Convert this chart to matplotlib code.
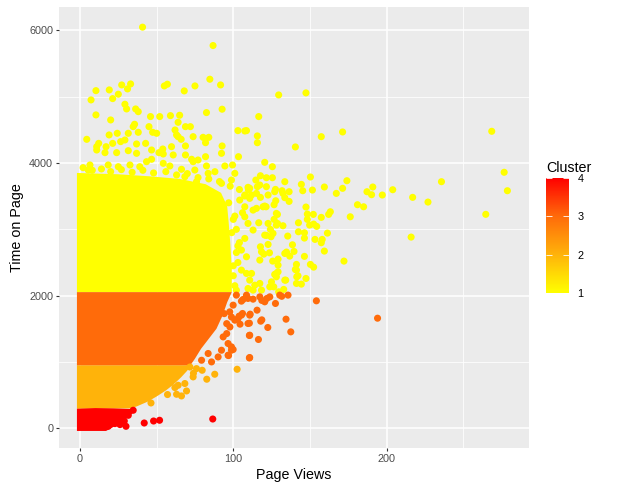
import numpy as np
import matplotlib
matplotlib.use('Agg')
import matplotlib.pyplot as plt
from matplotlib.colors import LinearSegmentedColormap, Normalize
from matplotlib.cm import ScalarMappable

plt.rcParams['font.family'] = ['Liberation Sans', 'DejaVu Sans']

# ── DATA ────────────────────────────────────────────────────────────────────────
clusters = [1, 2, 3, 4]

# solid (over-plotted) cores of each cluster, outline in data units
core1_views = [-2, 99, 99, 98, 97, 96, 92, 82, 65, 45, 25, -2]
core1_time  = [2053, 2053, 2400, 2800, 3100, 3350, 3550, 3680, 3760, 3800, 3830, 3850]
core2_views = [-2, 33, 37, 44, 50, 56, 61, 66, 70, 72, -2]
core2_time  = [295, 300, 330, 400, 480, 570, 660, 770, 870, 951, 951]
core3_views = [-2, 72, 75, 79, 84, 89, 93, 96, 99, -2]
core3_time  = [951, 951, 1050, 1200, 1350, 1500, 1700, 1900, 2053, 2053]
core4_views = [-2, 17, 21, 26, 31, 35, 34, 22, 10, -2]
core4_time  = [-40, -40, 10, 80, 160, 240, 290, 300, 305, 295]

# points standing out of the cores
views_1 = [40.8, 86.8, 84.7, 91.7, 27.2, 33, 10.4, 19.1, 31, 55, 57, 68, 75, 7.2, 21.3, 25,
           29.3, 30.4, 36.3, 38, 10.4, 20, 82.5, 92.7, 46, 52, 59, 65, 64, 35.6, 34.7, 45,
           68.8, 72, 62, 4.4, 19, 24.3, 31.5, 38, 47.4, 50, 63, 66, 73.8, 80.3, 81.9, 84,
           103, 108.6, 68.8, 92.7, 103.4, 92.3, 81.9, 10.9, 12.2, 17, 21.3, 26.5, 36.9, 42.8,
           51.5, 54, 59.7, 68.8, 77, 99.5,
           64, 29.3, 10.9, 16.3, 23.9, 31.5, 36.9, 46.7, 54.3, 60.8, 72.8, 6.5, 5.4,
           18.4, 25, 32.6, 39, 43.4, 46.7, 54.3, 58.6, 66.2, 73.8, 74.9, 82.5, 88, 94.5,
           109.6, 107.5, 110.7, 101, 98.8, 92.3, 104.2, 107.5, 111.9, 83.6, 76, 68.4,
           116.6, 115.7, 115.7, 120.5, 125.5,
           129.6, 147.4, 107.5, 157.4, 171.3, 140.5, 268.6, 150.3, 276.7, 278.8, 235.8, 174.1,
           144.4, 159.4, 151.6, 145.3, 171.3, 167.2, 187.2, 191, 190.2, 197.2, 204, 217, 227,
           264.7, 216, 181, 185, 176.3, 163.3, 162.2, 157.4, 172.2, 159.4, 161.4, 157.4, 158,
           153.3, 147.4, 148.3, 148.3, 152.2, 149.8, 152.4, 154.4, 142.5, 142.5, 146.4, 146.4,
           135.5, 138.6, 139.6, 146.4, 150.3, 152.4, 141.2, 140.5, 136.4, 136.4, 131.8, 127.5,
           133.6, 132.4, 128.8, 126.6, 127.7, 126.6, 122.7, 121.6, 125.5, 121.6, 117.7, 114.7,
           128.8, 122.7, 116.6, 121.4, 119.4, 117.7, 124.2, 121.6, 124.6, 122.7, 117.7, 123.6,
           119.9, 125.7, 129.2, 134.7, 136.8, 129.2, 129.2, 127, 141.4, 142.2, 147.4, 109.9,
           115.7, 107.5,
           141.2, 144.4, 141.2, 134.2, 132.9, 129.6, 126.4, 124.9, 128.1, 117.3, 114, 109.6, 111.9,
           117.3, 127, 132.4, 115.1, 110.7, 133.6, 115.1, 120.5, 128.1, 112.9, 109.6, 107.5,
           112.9, 120.5, 125.9, 128.1, 118.4, 117.3, 108.6, 105.3, 107.5, 133.6, 128.1, 123.8,
           133.6, 118.4, 110.7, 108.6, 105.3, 102, 112.9,
           103, 104, 102, 101, 100,
           2, 8, 14, 20, 27, 34, 41, 48, 56, 63, 70, 77, 84, 91,
           101, 100, 102, 99, 100, 97, 104, 106, 103, 98]
time_1  = [6048, 5771, 5263, 5177, 5177, 5192, 5091, 5102, 5117, 5162, 5188, 5087, 5162, 4951, 4971, 5037,
           4886, 4815, 4815, 4774, 4725, 4649, 4760, 4811, 4700, 4700, 4714, 4720, 4614, 4584, 4548, 4548,
           4548, 4548, 4498, 4357, 4423, 4448, 4448, 4463, 4463, 4448, 4423, 4357, 4397, 4387, 4306, 4387,
           4488, 4488, 4257, 4257, 4095, 4146, 4095, 4246, 4296, 4246, 4296, 4322, 4287, 4296,
           4156, 4211, 4246, 4121, 4045, 3970,
           4397, 4347, 4196, 4156, 4156, 4186, 4146, 4196, 4136, 4121, 4056, 3970, 3894,
           3970, 3944, 3970, 3944, 4020, 4056, 3995, 3955, 3905, 4020, 3894, 3955, 3869, 3955,
           3633, 3517, 3618, 3844, 3743, 3693, 3441, 3340, 3517, 3844, 3718, 3793,
           4700, 4408, 4306, 4010, 3944,
           5026, 5057, 4483, 4397, 4468, 4242, 4478, 3789, 3860, 3582, 3718, 3733,
           3678, 3638, 3592, 3582, 3618, 3542, 3567, 3638, 3522, 3517, 3597, 3482, 3411,
           3226, 2883, 3371, 3340, 3189, 3265, 3225, 3180, 2521, 2672, 2943, 2798, 2848,
           2848, 3336, 3230, 3150, 3225, 3064, 3079, 3044, 3099, 2963, 2948, 2868,
           2898, 2767, 2667, 2592, 2471, 2430, 2471, 2395, 3567, 3421, 3582, 3602,
           3477, 3054, 3225, 3150, 3431, 3371, 3517, 3643, 3778, 3778, 3808, 3743,
           3089, 3089, 3099, 3340, 3340, 3482, 2999, 2908, 2888, 2772, 2737, 2646,
           2626, 2521, 2551, 2657, 2596, 2460, 2360, 2320, 2284, 2299, 2259, 3592,
           3643, 3502,
           2385, 2174, 2184, 2234, 2094, 2058, 2133, 2208, 2335, 2184, 2158, 2108, 2335,
           3668, 3567, 3542, 3542, 3467, 3718, 3316, 3351, 3240, 3290, 3089, 3189,
           2989, 2913, 2938, 3064, 2661, 2536, 2586, 2687, 2863, 2636, 2284, 2133,
           2234, 2083, 2234, 2335, 2385, 2083, 2083,
           2500, 2800, 3000, 3200, 2300,
           3930, 3890, 3910, 3870, 3900, 3860, 3890, 3850, 3870, 3820, 3840, 3780, 3760, 3720,
           2150, 2450, 2650, 2950, 3150, 3400, 3600, 3250, 2750, 3650]

views_2 = [73.8, 79.7, 82.7, 87.9, 102.5, 69.5, 66.2, 63, 57.1, 61.9, 64, 68.4, 46.3, 71.7, 76, 74]
time_2  = [775, 875, 740, 815, 890, 563, 488, 513, 509, 614, 649, 675, 382, 924, 900, 830]

views_3 = [154.2, 194.1, 134.4, 137.5, 122.5, 117.9, 118.6, 115.5, 127.5, 131.6, 120.5, 121.9,
           116.4, 110.5, 110.5, 110.5, 111, 104.4, 106, 103.8, 118.6, 112.9, 109.6, 106.4,
           96.9, 99.9, 98.8, 102, 108.6, 117.3, 123.8, 130.3, 135.7, 97.7, 101, 105.3, 110.7,
           109.6, 110.7, 110.7, 103.1, 99.9, 105.3, 93.4, 96.6, 98.8, 92.3, 90.1, 85.8, 83.6,
           79.3, 96.6, 95.7, 97.8, 95.7, 94.1, 98.8]
time_3  = [1922, 1660, 1645, 1454, 1520, 1615, 1635, 1781, 1882, 1990, 1907, 1958,
           1339, 1399, 1061, 1585, 1721, 1570, 1731, 1691, 1928, 1947, 1958, 1943,
           1097, 1188, 1228, 2008, 2008, 1982, 1982, 2008, 2008, 1756, 1630, 1706, 1706,
           1580, 1404, 1067, 1655, 1857, 1917, 1378, 1278, 1177, 1177, 1076, 1001, 1128,
           1026, 1102, 1428, 1528, 1578, 1729, 1678]

views_4 = [26.1, 30, 28.9, 41.9, 48, 51.9, 86.6, 34.7, 31.5, 22.8, 18.4]
time_4  = [56, 30, 110, 80, 110, 121, 140, 272, 196, 71, 30]

# ── COLOURS ─────────────────────────────────────────────────────────────────────
cmap = LinearSegmentedColormap.from_list('cluster', ['#FFFF00', '#FFB30A', '#FF6B0A', '#FF0000'])
norm = Normalize(vmin=1, vmax=4)

# ── PLOT ────────────────────────────────────────────────────────────────────────
fig = plt.figure(figsize=(6.17, 4.90), dpi=100)
ax = fig.add_axes([59 / 617, 42 / 490, 470 / 617, 441 / 490])
ax.set_facecolor('#EBEBEB')

cores = [(core1_views, core1_time), (core2_views, core2_time),
         (core3_views, core3_time), (core4_views, core4_time)]
points = [(views_1, time_1), (views_2, time_2), (views_3, time_3), (views_4, time_4)]

for k, (cx, cy), (px, py) in zip(clusters, cores, points):
    ax.fill(cx, cy, color=cmap(norm(k)), linewidth=0, zorder=2)
    ax.scatter(px, py, c=[k] * len(px), cmap=cmap, norm=norm, s=26,
               linewidths=0, zorder=3)

ax.set_xlim(-13.7, 292.9)
ax.set_ylim(-297, 6352)
ax.set_xticks([0, 100, 200])
ax.set_yticks([0, 2000, 4000, 6000])
ax.set_xticks([50, 150, 250], minor=True)
ax.set_yticks([1000, 3000, 5000], minor=True)
ax.grid(True, which='major', color='white', linewidth=1.1, zorder=0)
ax.grid(True, which='minor', color='white', linewidth=0.55, zorder=0)
ax.set_axisbelow(True)
for s in ax.spines.values():
    s.set_visible(False)
ax.tick_params(which='major', length=2.2, width=0.8, color='#333333',
               labelsize=7.8, labelcolor='#4D4D4D', pad=2)
ax.tick_params(which='minor', length=0)

ax.set_xlabel('Page Views', fontsize=10.3, labelpad=3)
ax.set_ylabel('Time on Page', fontsize=10.3, labelpad=4)

# legend (colour bar)
cax = fig.add_axes([546 / 617, 197 / 490, 23 / 617, 115 / 490])
cb = fig.colorbar(ScalarMappable(norm=norm, cmap=cmap), cax=cax, ticks=clusters)
cb.outline.set_visible(False)
cax.tick_params(direction='in', length=4, width=0.6, color='white',
                labelcolor='black', labelsize=7.8, left=True, right=True, pad=6)
fig.text(546 / 617, 1 - 168 / 490, 'Cluster', fontsize=10.3, ha='left', va='center')

fig.savefig('out.png', dpi=100)
